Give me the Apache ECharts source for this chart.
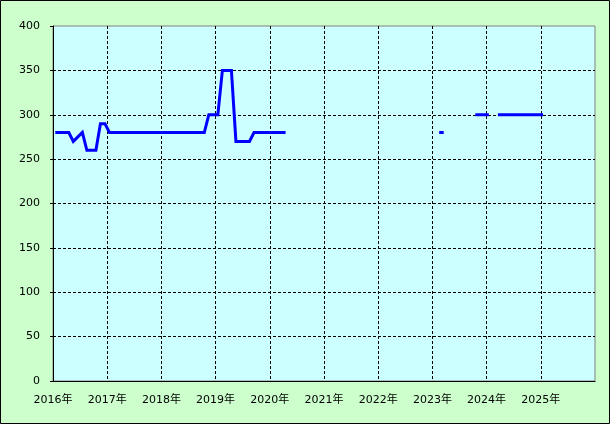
<!DOCTYPE html>
<html>
<head>
<meta charset="utf-8">
<script src="https://cdn.jsdelivr.net/npm/echarts@6/dist/echarts.min.js"></script>
<style>
html,body{margin:0;padding:0;background:#ccffcc;}
#c{width:610px;height:424px;}
</style>
</head>
<body>
<div id="c"></div>
<script>
// Monthly values, Jan..Dec, null = no data
const years = [2016, 2017, 2018, 2019, 2020, 2021, 2022, 2023, 2024, 2025];
const v2016 = [280, 280, 280, 280, 270, 275, 280, 260, 260, 260, 290, 290];
const v2017 = [280, 280, 280, 280, 280, 280, 280, 280, 280, 280, 280, 280];
const v2018 = [280, 280, 280, 280, 280, 280, 280, 280, 280, 280, 300, 300];
const v2019 = [300, 350, 350, 350, 270, 270, 270, 270, 280, 280, 280, 280];
const v2020 = [280, 280, 280, 280, null, null, null, null, null, null, null, null];
const v2021 = [null, null, null, null, null, null, null, null, null, null, null, null];
const v2022 = [null, null, null, null, null, null, null, null, null, null, null, null];
const v2023 = [null, 280, 280, null, null, null, null, null, null, 300, 300, 300];
const v2024 = [300, null, 300, 300, 300, 300, 300, 300, 300, 300, 300, 300];
const v2025 = [300];
const yearValues = [v2016, v2017, v2018, v2019, v2020, v2021, v2022, v2023, v2024, v2025];
const xTickLabels = ['2016年', '2017年', '2018年', '2019年', '2020年', '2021年', '2022年', '2023年', '2024年', '2025年'];
const yTicks = [0, 50, 100, 150, 200, 250, 300, 350, 400];

// points at mid-month on a decimal-year value axis
const seriesData = [];
yearValues.forEach((arr, yi) => {
  arr.forEach((v, mi) => {
    seriesData.push([years[yi] + (mi + 0.5) / 12, v]);
  });
});

const font = '"DejaVu Sans", "Noto Sans CJK JP", sans-serif';
const chart = echarts.init(document.getElementById('c'), null, {renderer: 'canvas'});
chart.setOption({
  animation: false,
  backgroundColor: '#ccffcc',
  grid: {
    left: 53, top: 26, right: 15, bottom: 43,
    show: true, backgroundColor: '#ccffff', borderColor: '#808080', borderWidth: 1
  },
  xAxis: {
    type: 'value', min: 2016, max: 2026, interval: 1,
    axisLine: {show: true, lineStyle: {color: '#000', width: 1}},
    axisTick: {show: false},
    axisLabel: {
      color: '#000', fontFamily: font, fontSize: 11, margin: 14,
      showMaxLabel: false,
      formatter: v => { const i = years.indexOf(Math.round(v)); return i >= 0 ? xTickLabels[i] : ''; }
    },
    splitLine: {show: true, showMinLine: false, showMaxLine: false, lineStyle: {color: '#000', type: [3, 2], width: 1}}
  },
  yAxis: {
    type: 'value', min: yTicks[0], max: yTicks[yTicks.length - 1], interval: 50,
    axisLine: {show: true, lineStyle: {color: '#000', width: 1}},
    axisTick: {show: true, inside: false, length: 3, lineStyle: {color: '#000'}},
    axisLabel: {color: '#000', fontFamily: font, fontSize: 11, margin: 13},
    splitLine: {show: true, showMinLine: false, showMaxLine: false, lineStyle: {color: '#000', type: [3, 2], width: 1}}
  },
  series: [{
    type: 'line', data: seriesData, showSymbol: false, symbol: 'none',
    connectNulls: false,
    lineStyle: {color: '#0000ff', width: 3, cap: 'butt', join: 'miter'},
    itemStyle: {color: '#0000ff'}
  }],
  graphic: [{
    type: 'rect', silent: true,
    shape: {x: 0.5, y: 0.5, width: 609, height: 423},
    style: {fill: null, stroke: '#000', lineWidth: 1},
    z: 100
  }]
});
</script>
</body>
</html>
